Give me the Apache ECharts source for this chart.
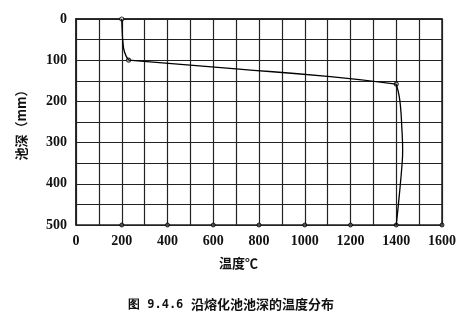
<!DOCTYPE html>
<html><head><meta charset="utf-8">
<script src="https://cdn.jsdelivr.net/npm/echarts@6/dist/echarts.min.js"></script>
<style>html,body{margin:0;padding:0;background:#fff}#c{width:471px;height:315px}</style>
</head><body><div id="c"></div>
<script>
// Data (temperature °C, depth mm)
const surfaceCurve = [[200,0],[202,30],[205,55],[212,80],[230,100]];
const interfaceLine = [[230,100],[700,121],[1112,140],[1400,158]];
const bottomCurve = [[1400,158],[1412,185],[1419,215],[1424,260],[1428,320],[1425,355],[1413,430],[1400,500]];
const keyPoints = [[200,0],[230,100],[1400,158]];
const axisDots = [[200,500],[400,500],[600,500],[800,500],[1000,500],[1200,500],[1400,500],[1600,500]];
const xLabelStep = 200, yLabelStep = 100;
const xName = '温度℃', yName = '池深（mm）';
const figNo = '图 9.4.6', figTitle = '沿熔化池池深的温度分布';

const chart = echarts.init(document.getElementById('c'));
const lineCol = '#222';
const lab = {color:'#111', fontFamily:'"Liberation Serif", "DejaVu Serif", serif', fontSize:14, fontWeight:'bold'};
chart.setOption({
  animation:false,
  grid:{left:76,right:29,top:19,bottom:90,show:true,borderColor:lineCol,borderWidth:1.5},
  xAxis:{type:'value',min:0,max:1600,interval:100,
    axisLine:{show:true,lineStyle:{color:lineCol,width:1.5}},axisTick:{show:false},
    splitLine:{show:true,lineStyle:{color:lineCol,width:1.2}},
    axisLabel:Object.assign({margin:9,formatter:v=>v%xLabelStep===0?String(v):''},lab)},
  yAxis:{type:'value',min:0,max:500,interval:50,inverse:true,
    name:yName,nameLocation:'middle',nameRotate:90,nameGap:48,
    nameTextStyle:{fontFamily:'"Noto Sans CJK SC"',fontSize:13,fontWeight:'bold',color:'#111'},
    axisLine:{show:true,lineStyle:{color:lineCol,width:1.5}},axisTick:{show:false},
    splitLine:{show:true,lineStyle:{color:lineCol,width:1.2}},
    axisLabel:Object.assign({margin:9,formatter:v=>v%yLabelStep===0?String(v):''},lab)},
  graphic:[
    {type:'text',left:219,top:257,style:{text:xName,fontFamily:'"Noto Sans CJK SC"',fontSize:13,fontWeight:'bold',fill:'#111'}},
    {type:'text',left:128,top:299,style:{text:figNo,fontFamily:'"DejaVu Sans Mono", monospace',fontSize:12,fontWeight:'bold',fill:'#111'}},
    {type:'text',left:191,top:298,style:{text:figTitle,fontFamily:'"Noto Sans CJK SC"',fontSize:13,fontWeight:'bold',fill:'#111'}}
  ],
  series:[
    {type:'line',data:surfaceCurve,smooth:true,showSymbol:false,lineStyle:{color:'#000',width:1.3}},
    {type:'line',data:interfaceLine,smooth:true,showSymbol:false,lineStyle:{color:'#000',width:1.3}},
    {type:'line',data:bottomCurve,smooth:true,showSymbol:false,lineStyle:{color:'#000',width:1.3}},
    {type:'scatter',data:keyPoints,symbol:'circle',symbolSize:4,itemStyle:{color:'#fff',borderColor:'#000',borderWidth:1.2}},
    {type:'scatter',data:axisDots,symbol:'circle',symbolSize:4,itemStyle:{color:'#555',borderColor:'#000',borderWidth:1}}
  ]
});
</script></body></html>
